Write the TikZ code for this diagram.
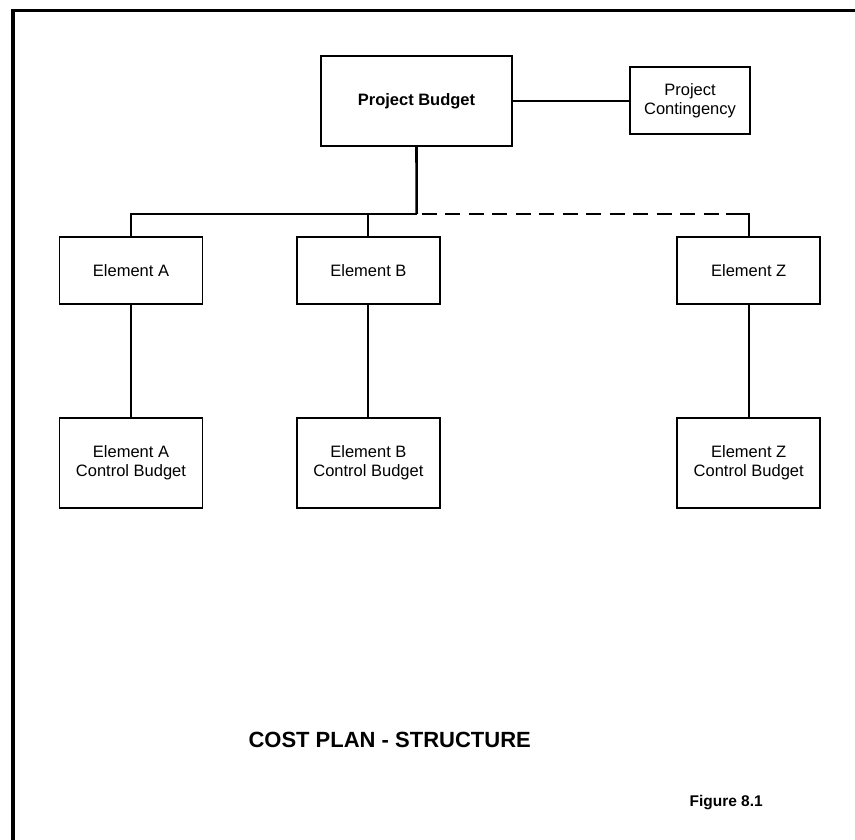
\documentclass[tikz,border=0pt]{standalone}
\usepackage{fontspec}
\setmainfont{Liberation Sans}
\begin{document}
\begin{tikzpicture}[x=1pt,y=-1pt,
  box/.style={draw=black,line width=1.8pt,rectangle,inner sep=0pt,align=center,
    font=\fontsize{16.5}{19}\selectfont},
  elbox/.style={box,minimum width=143pt,minimum height=67pt},
  cbbox/.style={box,minimum width=143pt,minimum height=90pt},
  link/.style={line width=2pt},
  optlink/.style={line width=2pt,dash pattern=on 15pt off 8.5pt,dash phase=18.5pt}]
\useasboundingbox (0,0) rectangle (855,840);
\fill[white] (0,0) rectangle (855,840);
% outer frame (top and left edges)
\draw[line width=3.6pt] (13,842) -- (13,10.7) -- (857,10.7);

% budget hierarchy
\node[box,minimum width=191pt,minimum height=90pt,font=\fontsize{16.5}{19}\selectfont\bfseries]
  (pb) at (416.5,101) {Project Budget};
\node[box,minimum width=120pt,minimum height=67pt] (pc) at (690,100.5) {Project\\Contingency};

\node[elbox] (ea) at (131,270.5) {Element A};
\node[elbox] (eb) at (368.4,270.5) {Element B};
\node[elbox] (ez) at (748.7,270.5) {Element Z};

\node[cbbox] (ca) at (131,463) {Element A\\Control Budget};
\node[cbbox] (cb) at (368.4,463) {Element B\\Control Budget};
\node[cbbox] (cz) at (748.7,463) {Element Z\\Control Budget};

\coordinate (bus) at (416.7,214);
\coordinate (zbend) at (726,214);

% connectors
\draw[link] (pb.east) -- (pb.east -| pc.west);
\draw[line width=2.6pt] (pb.south) -- (bus);
\draw[link] (ea.north) |- (bus);
\draw[link] (eb.north) -- (eb.north |- bus);
\draw[optlink] (bus) -- (zbend);
\draw[link] (zbend) -| (ez.north);
\draw[link] (ea) -- (ca);
\draw[link] (eb) -- (cb);
\draw[link] (ez) -- (cz);

% captions
\node[font=\fontsize{22}{26}\selectfont\bfseries,anchor=west] (title) at (245,739.5) {COST PLAN - STRUCTURE};
\node[font=\fontsize{15.5}{18}\selectfont\bfseries,anchor=west] (fig) at (686,803) {Figure 8.1};
\end{tikzpicture}
\end{document}
